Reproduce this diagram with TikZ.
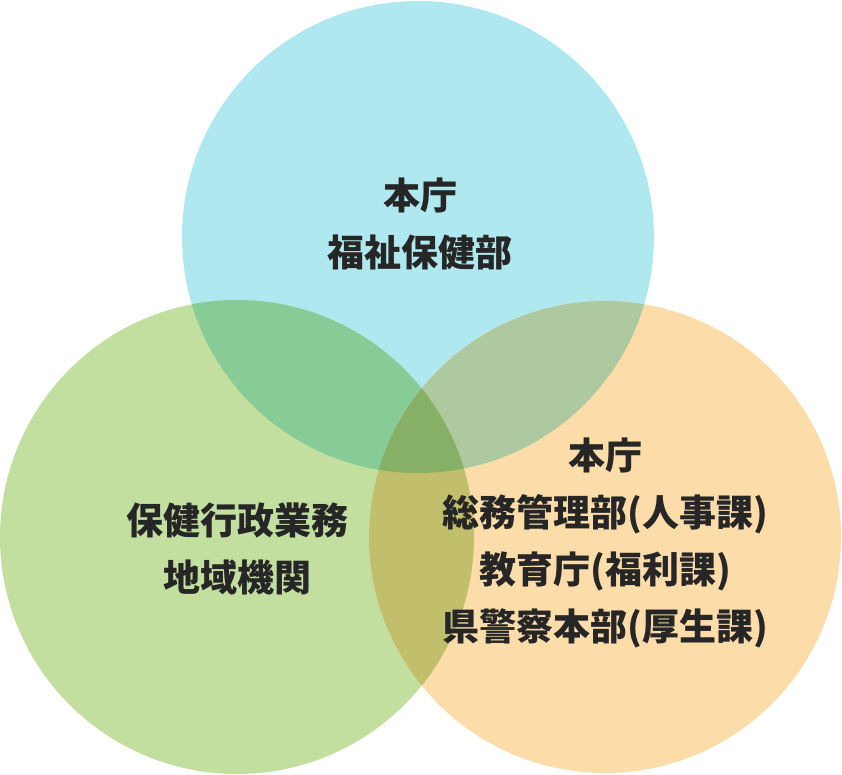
\documentclass[tikz,border=0pt]{standalone}
\usepackage{fontspec}
\newfontfamily\cjk{Noto Sans CJK JP}
\definecolor{kencyan}{HTML}{B0E8F0}
\definecolor{kengreen}{HTML}{C3DFA0}
\definecolor{kenorange}{HTML}{FCDDAA}
\definecolor{kencg}{RGB}{135,203,151}
\definecolor{kenco}{RGB}{174,201,160}
\definecolor{kengo}{RGB}{193,190,108}
\definecolor{kenall}{RGB}{133,176,101}
\tikzset{
  circlelabel/.style={align=center, font=\cjk\bfseries\fontsize{37}{57}\selectfont, text=black!85, inner sep=0pt}
}
\newcommand{\topcirc}{(418,237) circle (236)}
\newcommand{\leftcirc}{(237,537) circle (237)}
\newcommand{\rightcirc}{(605,537) circle (236)}
\begin{document}
\begin{tikzpicture}[x=1pt, y=-1pt]
  \useasboundingbox (0,0) rectangle (842,774);
  % circles
  \fill[kencyan] \topcirc;
  \fill[kengreen] \leftcirc;
  \fill[kenorange] \rightcirc;
  % overlaps
  \begin{scope}
    \clip \topcirc; \fill[kencg] \leftcirc;
  \end{scope}
  \begin{scope}
    \clip \topcirc; \fill[kenco] \rightcirc;
  \end{scope}
  \begin{scope}
    \clip \leftcirc; \fill[kengo] \rightcirc;
  \end{scope}
  \begin{scope}
    \clip \topcirc; \clip \leftcirc; \fill[kenall] \rightcirc;
  \end{scope}
  % labels
  \node[circlelabel] (honcho) at (420,224) {本庁\\福祉保健部};
  \node[circlelabel] (chiiki) at (237,549) {保健行政業務\\地域機関};
  \node[circlelabel] (soumu) at (605,543) {本庁\\総務管理部(人事課)\\教育庁(福利課)\\県警察本部(厚生課)};
\end{tikzpicture}
\end{document}
